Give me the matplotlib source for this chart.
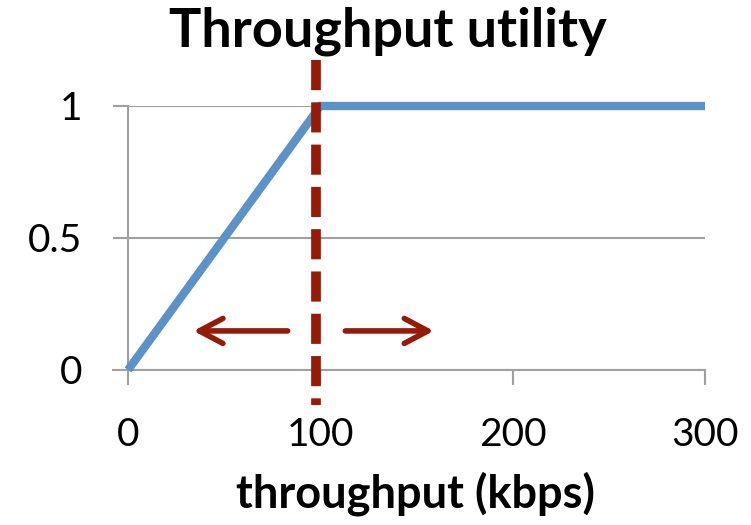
import matplotlib
matplotlib.use("Agg")
import matplotlib.pyplot as plt
from matplotlib.patches import FancyArrowPatch

throughput = [0, 100, 300]
utility = [0, 1, 1]
xticks = [0, 100, 200, 300]
yticks = [0, 0.5, 1]
ytick_labels = ["0", "0.5", "1"]
threshold = 98
left_arrow = (83, 34)
right_arrow = (113, 159)
arrow_y = 0.148

BLUE = "#5B93C9"
RED = "#961A08"
GRID = "#A0A0A0"

plt.rcParams['font.family'] = ['Lato', 'DejaVu Sans']

fig = plt.figure(figsize=(7.51, 5.25), dpi=100)
ax = fig.add_axes([128/751, 1-370/525, (705-128)/751, (370-106)/525])

ax.set_xlim(0, 300)
ax.set_ylim(0, 1)
ax.set_xticks(xticks)
ax.set_xticklabels([str(v) for v in xticks])
ax.set_yticks(yticks)
ax.set_yticklabels(ytick_labels)

for s in ["top", "right", "bottom"]:
    ax.spines[s].set_visible(False)
ax.spines["left"].set_color(GRID)
ax.spines["left"].set_linewidth(1.5)

ax.yaxis.grid(True, color=GRID, linewidth=1.5)
ax.set_axisbelow(True)
ax.tick_params(axis="y", length=11, width=1.5, color=GRID, pad=22, labelsize=28)
ax.tick_params(axis="x", length=11, width=1.5, color=GRID, pad=23, labelsize=28)
ax.axhline(0, color=GRID, linewidth=1.5, xmin=-15/577, xmax=1, clip_on=False, zorder=1)

ax.plot(throughput, utility, color=BLUE, linewidth=6, solid_joinstyle="miter",
        solid_capstyle="butt", clip_on=False, zorder=3)

ax.plot([threshold, threshold], [1.174, -0.133], color=RED, linewidth=7,
        linestyle=(0, (3.1, 1.25)), dash_capstyle="butt", clip_on=False, zorder=4)

for (x0, x1) in [left_arrow, right_arrow]:
    arr = FancyArrowPatch((x0, arrow_y), (x1, arrow_y),
                          arrowstyle="->,head_length=17,head_width=9",
                          mutation_scale=1, color=RED, linewidth=4,
                          shrinkA=0, shrinkB=0, zorder=4)
    ax.add_patch(arr)

fig.text(0.516, 1-46/525, "Throughput utility", ha="center", va="baseline",
         fontsize=39, fontweight="bold")
fig.text(415/751, 1-508/525, "throughput (kbps)", ha="center", va="baseline",
         fontsize=32.5, fontweight="bold")

fig.savefig("out.png", dpi=100)
